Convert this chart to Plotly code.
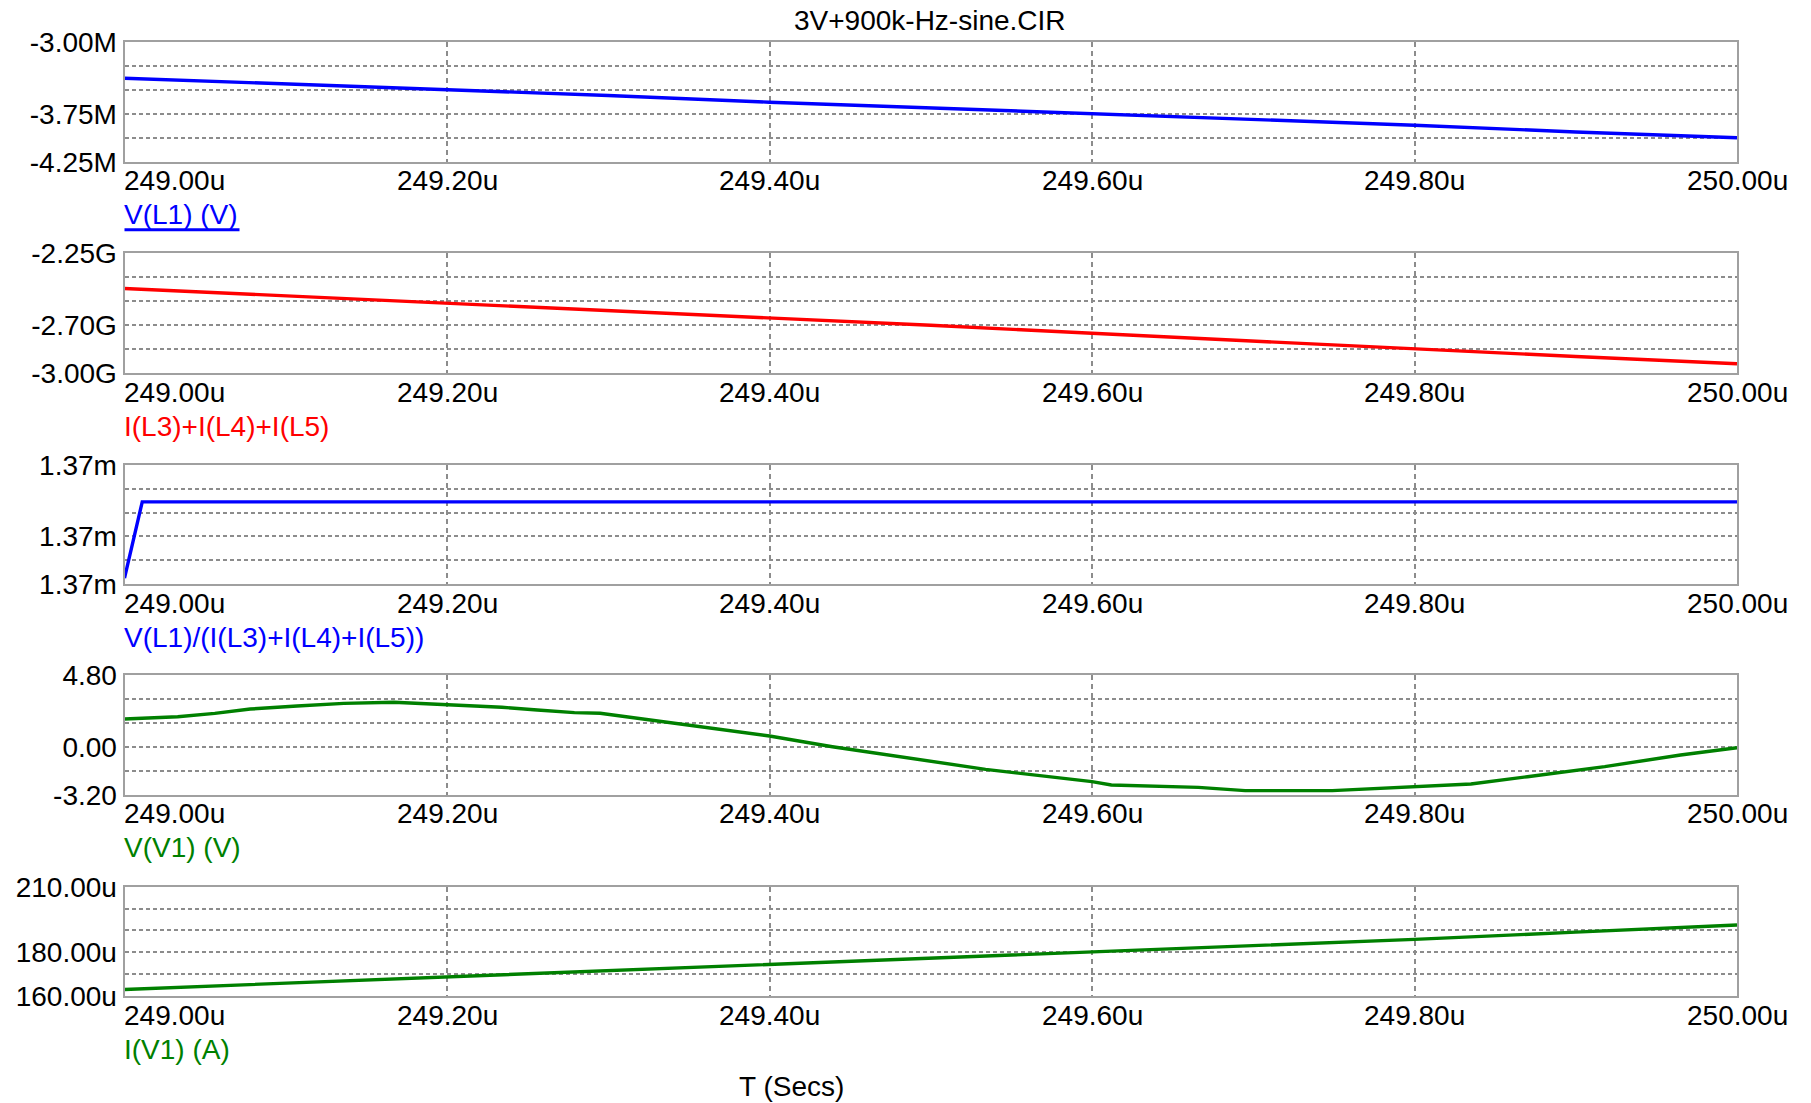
# Micro-Cap 風の過渡解析プロット（5段）を plotly で再現する
import plotly.graph_objects as go

# 時間軸 (us)
t_lin = [249.0, 249.1, 249.2, 249.3, 249.4, 249.5, 249.6, 249.7, 249.8, 249.9, 250.0]
# V(L1) (MV)
v_l1 = [-3.38, -3.44, -3.50, -3.56, -3.63, -3.69, -3.75, -3.81, -3.87, -3.94, -4.00]
# I(L3)+I(L4)+I(L5) (G)
i_l345 = [-2.47, -2.515, -2.56, -2.61, -2.655, -2.70, -2.75, -2.80, -2.845, -2.895, -2.94]
# V(L1)/(I(L3)+I(L4)+I(L5)) (m)
t_ratio = [249.0, 249.011, 249.078, 249.278, 249.5, 249.722, 249.945, 250.0]
ratio = [1.36955, 1.37019, 1.37019, 1.37019, 1.37019, 1.37019, 1.37019, 1.37019]
# V(V1) (V)
t_v1 = [249.0, 249.033, 249.056, 249.078, 249.107, 249.136, 249.167, 249.189, 249.211,
        249.234, 249.256, 249.279, 249.295, 249.343, 249.4, 249.439, 249.487, 249.534,
        249.6, 249.612, 249.666, 249.695, 249.749, 249.778, 249.801, 249.835, 249.87,
        249.918, 249.965, 250.0]
v_v1 = [1.87, 2.02, 2.24, 2.53, 2.73, 2.91, 2.98, 2.87, 2.75,
        2.65, 2.47, 2.29, 2.25, 1.53, 0.73, 0.02, -0.76, -1.49,
        -2.31, -2.53, -2.69, -2.91, -2.91, -2.75, -2.65, -2.47, -1.98,
        -1.31, -0.53, -0.05]
# I(V1) (uA)
i_v1 = [163.0, 165.9, 168.8, 171.4, 174.5, 177.4, 180.3, 183.1, 185.9, 189.2, 192.5]

# X軸目盛
x_tickvals = [249.0, 249.2, 249.4, 249.6, 249.8, 250.0]
x_ticktext = ['249.00u', '249.20u', '249.40u', '249.60u', '249.80u', '250.00u']

# Y軸目盛（各段）
y_ticks = [
    ([-3.0, -3.25, -3.5, -3.75, -4.0, -4.25], ['-3.00M', '', '', '-3.75M', '', '-4.25M']),
    ([-2.25, -2.40, -2.55, -2.70, -2.85, -3.00], ['-2.25G', '', '', '-2.70G', '', '-3.00G']),
    ([1.3705, 1.3703, 1.3701, 1.3699, 1.3697, 1.3695], ['1.37m', '', '', '1.37m', '', '1.37m']),
    ([4.8, 3.2, 1.6, 0.0, -1.6, -3.2], ['4.80', '', '', '0.00', '', '-3.20']),
    ([210, 200, 190, 180, 170, 160], ['210.00u', '', '', '180.00u', '', '160.00u']),
]

labels = ['V(L1) (V)', 'I(L3)+I(L4)+I(L5)', 'V(L1)/(I(L3)+I(L4)+I(L5))',
          'V(V1) (V)', 'I(V1) (A)']
colors = ['#0000ff', '#ff0000', '#0000ff', '#008000', '#008000']
series = [(t_lin, v_l1), (t_lin, i_l345), (t_ratio, ratio), (t_v1, v_v1), (t_lin, i_v1)]

W, H = 1811, 1103
x_left, x_right = 124.5, 1737
# 各段の上端・下端 (px)
boxes = [(41.7, 161.7), (253.3, 373.3), (465, 584), (675, 795), (886.7, 996)]

FONT = 'Arial, Liberation Sans, sans-serif'
FS = 28
grid_col = '#8c8c8c'
box_col = '#a0a0a0'

fig = go.Figure()
layout = dict(width=W, height=H, margin=dict(l=0, r=0, t=0, b=0, autoexpand=False),
              plot_bgcolor='white', paper_bgcolor='white', showlegend=False,
              font=dict(family=FONT, size=FS, color='black'))
annotations = []
shapes = []

for k in range(5):
    sfx = '' if k == 0 else str(k + 1)
    xs, ys = series[k]
    fig.add_trace(go.Scatter(x=xs, y=ys, mode='lines', xaxis='x' + sfx, yaxis='y' + sfx,
                             line=dict(color=colors[k], width=3.4)))
    top, bot = boxes[k]
    tv, tt = y_ticks[k]
    layout['xaxis' + sfx] = dict(domain=[x_left / W, x_right / W], range=[249.0, 250.0],
                                 anchor='y' + sfx, tickmode='array', tickvals=x_tickvals,
                                 showticklabels=False, ticks='', showline=True, mirror=True,
                                 linecolor=box_col, linewidth=2, showgrid=True,
                                 gridcolor=grid_col, gridwidth=1.5, griddash='5px,4px',
                                 zeroline=False, automargin=False)
    layout['yaxis' + sfx] = dict(domain=[1 - bot / H, 1 - top / H], range=[tv[-1], tv[0]],
                                 anchor='x' + sfx, tickmode='array', tickvals=tv, ticktext=tt,
                                 ticks='', showline=True, mirror=True, linecolor=box_col,
                                 linewidth=2, showgrid=True, gridcolor=grid_col, gridwidth=1.5,
                                 griddash='4px,3px', zeroline=False, automargin=False,
                                 tickfont=dict(size=FS, color='black'))
    # 時間ラベル（左端は左寄せ、他は中央）
    for v, s in zip(x_tickvals, x_ticktext):
        first = v == x_tickvals[0]
        annotations.append(dict(x=v, xref='x' + sfx, y=0, yref='y%s domain' % sfx,
                                xanchor='left' if first else 'center', xshift=-3 if first else 0,
                                yanchor='middle', yshift=-19, showarrow=False,
                                text=s, font=dict(size=FS, color='black')))
    # 波形名
    annotations.append(dict(x=249.0, xref='x' + sfx, y=0, yref='y%s domain' % sfx,
                            xanchor='left', xshift=-3, yanchor='middle', yshift=-53,
                            showarrow=False, text=labels[k], font=dict(size=FS, color=colors[k])))

# 選択中の波形名の下線
shapes.append(dict(type='line', xref='x', xsizemode='pixel', xanchor=249.0, x0=-1, x1=115,
                   yref='y domain', ysizemode='pixel', yanchor=0, y0=-68, y1=-68,
                   line=dict(color='#0000ff', width=3)))

annotations.append(dict(x=930 / W, xref='paper', y=1 - 21 / H, yref='paper', xanchor='center',
                        yanchor='middle', showarrow=False, text='3V+900k-Hz-sine.CIR',
                        font=dict(size=FS, color='black')))
annotations.append(dict(x=791 / W, xref='paper', y=1 - 1086 / H, yref='paper', xanchor='center',
                        yanchor='middle', showarrow=False, text='T (Secs)',
                        font=dict(size=FS, color='black')))
layout['annotations'] = annotations
layout['shapes'] = shapes
fig.update_layout(**layout)

fig.write_html("out.html", config={'displayModeBar': False},
               post_script="document.body.style.margin='0';")
